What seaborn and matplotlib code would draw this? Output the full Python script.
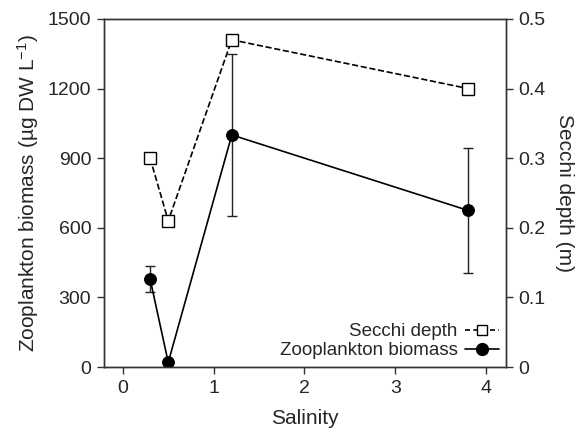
import matplotlib
matplotlib.use("Agg")
import matplotlib.pyplot as plt
import seaborn as sns
import pandas as pd
from matplotlib.lines import Line2D

sns.set_style("ticks")
plt.rcParams['font.family'] = ['Liberation Sans', 'DejaVu Sans']
plt.rcParams['mathtext.fontset'] = 'custom'
plt.rcParams['mathtext.rm'] = 'Liberation Sans'
plt.rcParams['mathtext.it'] = 'Liberation Sans:italic'
plt.rcParams['mathtext.default'] = 'regular'

salinity = [0.3, 0.5, 1.2, 3.8]
zoo_biomass = [380, 20, 1000, 675]
zoo_err = [55, 0, 350, 268]
secchi = [0.30, 0.21, 0.47, 0.40]

df = pd.DataFrame({"Salinity": salinity, "Zoo": zoo_biomass, "Err": zoo_err, "Secchi": secchi})

fig = plt.figure(figsize=(5.83, 4.30), dpi=100)
ax = fig.add_axes([0.178, 0.1465, 0.690, 0.8095])
ax2 = ax.twinx()

ax.errorbar(df["Salinity"], df["Zoo"], yerr=df["Err"], fmt='none', ecolor='#222222',
            elinewidth=1.0, capsize=3.5, capthick=1.0, zorder=2)
sns.lineplot(data=df, x="Salinity", y="Zoo", ax=ax, color='black', linewidth=1.2,
             marker='o', markersize=8.5, markerfacecolor='black', markeredgecolor='black',
             estimator=None, sort=False, zorder=3)
sns.lineplot(data=df, x="Salinity", y="Secchi", ax=ax2, color='black', linewidth=1.2,
             linestyle='--', dashes=(4, 3), marker='s', markersize=8, markerfacecolor='white',
             markeredgecolor='black', markeredgewidth=1.0, estimator=None, sort=False, zorder=3)

ax.set_xlim(-0.21, 4.22)
ax.set_ylim(0, 1500)
ax2.set_ylim(0, 0.5)
ax.set_xticks([0, 1, 2, 3, 4])
ax.set_yticks([0, 300, 600, 900, 1200, 1500])
ax2.set_yticks([0, 0.1, 0.2, 0.3, 0.4, 0.5])
ax2.set_yticklabels(['0', '0.1', '0.2', '0.3', '0.4', '0.5'])

for a in (ax, ax2):
    for s in a.spines.values():
        s.set_visible(True)
        s.set_linewidth(1.0)
        s.set_color('#333333')
    a.tick_params(labelsize=14, length=5, width=1.0, color='#333333', direction='out', pad=4)

ax.set_xlabel("Salinity", fontsize=15, labelpad=9)
ax.set_ylabel(r"Zooplankton biomass (µg DW L$^{-1}$)", fontsize=15, labelpad=5)
ax2.set_ylabel("Secchi depth (m)", fontsize=15, rotation=270, labelpad=20)

handles = [
    Line2D([], [], color='black', linestyle='--', dashes=(3, 2), marker='s', markersize=7.5,
           markerfacecolor='white', markeredgecolor='black', linewidth=1.2),
    Line2D([], [], color='black', linestyle='-', marker='o', markersize=8.5,
           markerfacecolor='black', markeredgecolor='black', linewidth=1.2),
]
ax2.legend(handles, ["Secchi depth", "Zooplankton biomass"], loc='lower right',
           bbox_to_anchor=(1.015, -0.015), frameon=False, markerfirst=False, fontsize=13.5,
           handlelength=1.8, handletextpad=0.4, labelspacing=0.1, borderaxespad=0.3)

fig.savefig("out.png", dpi=100)
